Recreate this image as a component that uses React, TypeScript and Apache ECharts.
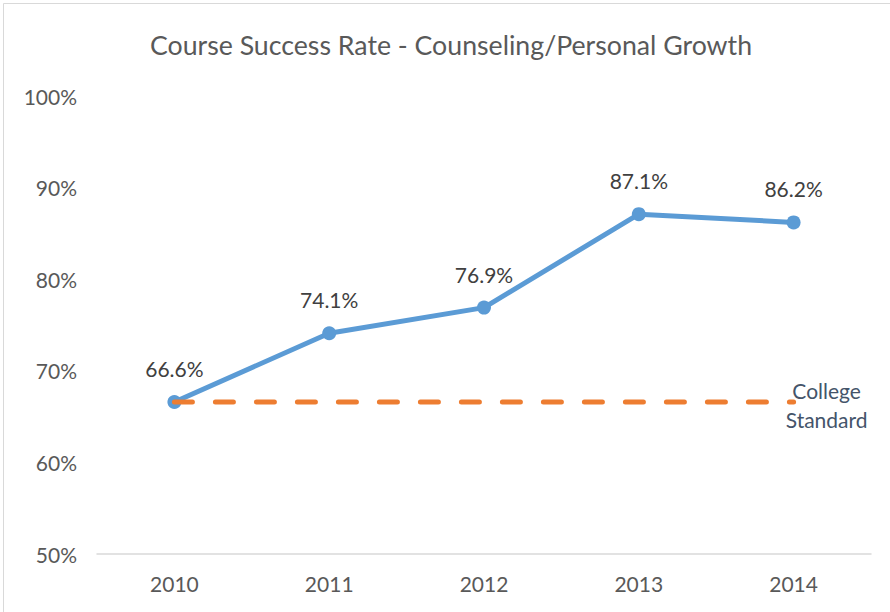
import React, { useEffect, useRef } from "react";
import * as echarts from "echarts";

const years = ["2010", "2011", "2012", "2013", "2014"];
const successRate = [66.6, 74.1, 76.9, 87.1, 86.2];
const collegeStandard = [66.6, 66.6, 66.6, 66.6, 66.6];
const titleText = "Course Success Rate - Counseling/Personal Growth";
const standardLabel = "College\nStandard";

const FONT = "Lato";

export default function App() {
  const ref = useRef<HTMLDivElement>(null);
  useEffect(() => {
    if (!ref.current) return;
    const chart = echarts.init(ref.current, null, { renderer: "svg" });
    chart.setOption({
      animation: false,
      backgroundColor: "#ffffff",
      textStyle: { fontFamily: FONT },
      graphic: [
        {
          type: "rect",
          shape: { x: 3.5, y: 3.5, width: 920, height: 640 },
          style: { fill: "none", stroke: "#d9d9d9", lineWidth: 1 },
          silent: true,
        },
        {
          type: "text",
          x: 451,
          y: 45,
          style: {
            text: titleText,
            fontFamily: FONT,
            fontSize: 26.7,
            fill: "#595959",
            align: "center",
            verticalAlign: "middle",
          },
        },
      ],
      grid: { left: 97, right: 19, top: 96, bottom: 58, containLabel: false },
      xAxis: {
        type: "category",
        data: years,
        boundaryGap: true,
        axisLine: { show: true, lineStyle: { color: "#d9d9d9", width: 1.5 } },
        axisTick: { show: false },
        axisLabel: { color: "#595959", fontSize: 21, margin: 19, fontFamily: FONT },
        splitLine: { show: false },
      },
      yAxis: {
        type: "value",
        min: 50,
        max: 100,
        interval: 10,
        axisLine: { show: false },
        axisTick: { show: false },
        splitLine: { show: false },
        axisLabel: {
          color: "#595959",
          fontSize: 21,
          margin: 20,
          fontFamily: FONT,
          formatter: (v: number) => v + "%",
        },
      },
      series: [
        {
          name: "College Standard",
          type: "line",
          data: collegeStandard,
          symbol: "none",
          z: 3,
          lineStyle: { color: "#ED7D31", width: 5, type: [18, 23], cap: "round" },
          endLabel: {
            show: true,
            formatter: () => standardLabel,
            distance: 0,
            offset: [33, 3],
            color: "#44546A",
            fontSize: 21,
            lineHeight: 29,
            fontFamily: FONT,
            align: "center",
            verticalAlign: "middle",
          },
        },
        {
          name: "Success Rate",
          type: "line",
          data: successRate,
          symbol: "circle",
          symbolSize: 14,
          z: 2,
          itemStyle: { color: "#5B9BD5" },
          lineStyle: { color: "#5B9BD5", width: 5 },
          label: {
            show: true,
            position: "top",
            distance: 16,
            color: "#404040",
            fontSize: 21,
            fontFamily: FONT,
            formatter: (p: any) => p.value.toFixed(1) + "%",
          },
        },
      ],
    });
    return () => chart.dispose();
  }, []);
  return (
    <div
      ref={ref}
      style={{ position: "absolute", left: 0, top: 0, width: 890, height: 612 }}
    />
  );
}
